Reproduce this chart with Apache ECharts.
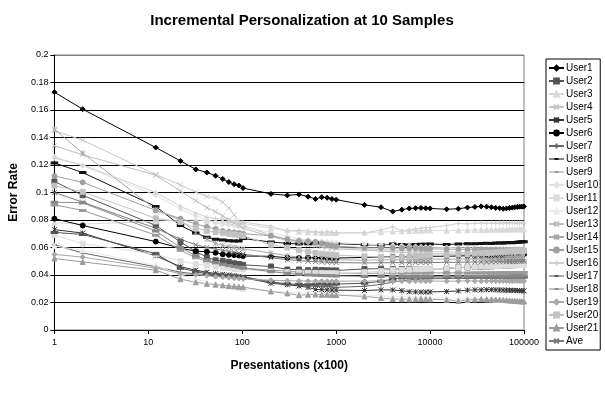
<!DOCTYPE html>
<html>
<head>
<meta charset="utf-8">
<script src="https://cdn.jsdelivr.net/npm/echarts@6/dist/echarts.min.js"></script>
<style>
  html, body { margin: 0; padding: 0; background: #fff; }
  #chart { width: 605px; height: 396px; }
</style>
</head>
<body>
<div id="chart"></div>
<script>
// x positions (presentations x100)
const presentations = [1, 2, 12, 22, 32, 42, 52, 62, 72, 82, 92, 102,
  202, 302, 402, 502, 602, 702, 802, 902, 1002,
  2002, 3002, 4002, 5002, 6002, 7002, 8002, 9002, 10002,
  15002, 20002, 25002, 30002, 35002, 40002, 45002, 50002, 55002, 60002, 65002, 70002, 75002, 80002, 85002, 90002, 95002, 100000];

const user1 = [0.173, 0.1606, 0.1327, 0.123, 0.1168, 0.1146, 0.1122, 0.1098, 0.1076, 0.106, 0.1051, 0.1032,
  0.099, 0.0979, 0.0986, 0.097, 0.0953, 0.0966, 0.0962, 0.0953, 0.0948,
  0.091, 0.0893, 0.0862, 0.0875, 0.0884, 0.0886, 0.0888, 0.0886, 0.0884,
  0.0878, 0.0882, 0.0891, 0.0895, 0.0899, 0.0897, 0.0893, 0.0888, 0.0886, 0.0882, 0.0884, 0.0888, 0.089, 0.0893, 0.0895, 0.0897, 0.0897, 0.0899];
const user2 = [0.108, 0.098, 0.076, 0.064, 0.057, 0.053, 0.0507, 0.0503, 0.0496, 0.0485, 0.048, 0.0474,
  0.0462, 0.044, 0.044, 0.0435, 0.0438, 0.0436, 0.0434, 0.0433, 0.0433,
  0.0444, 0.0446, 0.0442, 0.0444, 0.0445, 0.0444, 0.0443, 0.0444, 0.0444,
  0.0446, 0.0455, 0.0455, 0.0458, 0.046, 0.0462, 0.0463, 0.0465, 0.0466, 0.0467, 0.0468, 0.047, 0.0471, 0.0472, 0.0473, 0.0474, 0.0475, 0.0477];
const user3 = [0.078, 0.077, 0.079, 0.080, 0.080, 0.0795, 0.079, 0.079, 0.0785, 0.078, 0.078, 0.0775,
  0.074, 0.0725, 0.0715, 0.071, 0.0708, 0.0706, 0.0705, 0.0706, 0.0706,
  0.0708, 0.0712, 0.0716, 0.0718, 0.072, 0.0722, 0.0722, 0.0724, 0.0724,
  0.0722, 0.0724, 0.0726, 0.0727, 0.0728, 0.0728, 0.0729, 0.0729, 0.073, 0.073, 0.073, 0.0731, 0.0731, 0.0731, 0.0732, 0.0732, 0.0732, 0.0732];
const user4 = [0.145, 0.138, 0.113, 0.1055, 0.1003, 0.097, 0.096, 0.093, 0.0886, 0.0837, 0.078, 0.076,
  0.069, 0.066, 0.064, 0.063, 0.062, 0.0615, 0.061, 0.0605, 0.060,
  0.059, 0.0585, 0.058, 0.058, 0.0575, 0.0575, 0.057, 0.057, 0.057,
  0.0568, 0.0566, 0.0565, 0.0564, 0.0563, 0.0562, 0.0562, 0.0561, 0.056, 0.056, 0.056, 0.0559, 0.0559, 0.0558, 0.0558, 0.0558, 0.0557, 0.0557];
const user5 = [0.073, 0.0705, 0.054, 0.046, 0.0435, 0.042, 0.041, 0.0405, 0.040, 0.0395, 0.039, 0.0385,
  0.034, 0.033, 0.032, 0.031, 0.0295, 0.0293, 0.0292, 0.029, 0.029,
  0.0287, 0.0292, 0.0291, 0.0286, 0.0278, 0.0277, 0.0276, 0.0276, 0.0277,
  0.028, 0.0284, 0.029, 0.0292, 0.0292, 0.0293, 0.0293, 0.0292, 0.0291, 0.029, 0.029, 0.0289, 0.0288, 0.0288, 0.0287, 0.0286, 0.0286, 0.0285];
const user6 = [0.081, 0.076, 0.0643, 0.0595, 0.0573, 0.0569, 0.0562, 0.0551, 0.0547, 0.0545, 0.0542, 0.0538,
  0.0536, 0.0525, 0.0524, 0.0525, 0.0526, 0.0527, 0.0525, 0.0524, 0.0523,
  0.0528, 0.053, 0.0532, 0.0531, 0.0533, 0.0534, 0.0533, 0.0535, 0.0536,
  0.0537, 0.0538, 0.054, 0.0539, 0.0541, 0.0542, 0.0541, 0.0543, 0.0542, 0.0544, 0.0545, 0.0544, 0.0546, 0.0545, 0.0547, 0.0546, 0.0548, 0.0549];
const user7 = [0.062, 0.056, 0.046, 0.042, 0.0408, 0.0402, 0.0398, 0.0392, 0.0388, 0.0384, 0.0381, 0.0378,
  0.0345, 0.0332, 0.0326, 0.032, 0.0318, 0.0315, 0.0316, 0.0313, 0.031,
  0.0318, 0.0332, 0.0348, 0.0358, 0.0364, 0.0368, 0.037, 0.0372, 0.0373,
  0.0374, 0.0376, 0.0375, 0.0377, 0.0378, 0.0377, 0.0379, 0.0378, 0.038, 0.0379, 0.038, 0.0381, 0.038, 0.0381, 0.0382, 0.0381, 0.0382, 0.0382];
const user8 = [0.1215, 0.1145, 0.0898, 0.076, 0.0705, 0.0675, 0.066, 0.0655, 0.065, 0.0648, 0.0647, 0.0665,
  0.064, 0.063, 0.0625, 0.0628, 0.0632, 0.0635, 0.0633, 0.063, 0.0628,
  0.062, 0.0618, 0.0625, 0.0622, 0.0619, 0.0621, 0.0624, 0.0623, 0.0625,
  0.0622, 0.0626, 0.0628, 0.0627, 0.063, 0.0631, 0.063, 0.0632, 0.0633, 0.0632, 0.0634, 0.0636, 0.0635, 0.0637, 0.0638, 0.064, 0.0641, 0.0642];
const user9 = [0.091, 0.087, 0.069, 0.058, 0.0525, 0.05, 0.0485, 0.0472, 0.0465, 0.046, 0.0455, 0.045,
  0.0435, 0.0428, 0.0422, 0.042, 0.0418, 0.0417, 0.0416, 0.0415, 0.0414,
  0.0412, 0.0413, 0.0414, 0.0413, 0.0414, 0.0415, 0.0414, 0.0415, 0.0416,
  0.0415, 0.0416, 0.0415, 0.0416, 0.0417, 0.0416, 0.0417, 0.0416, 0.0417, 0.0418, 0.0417, 0.0418, 0.0417, 0.0418, 0.0418, 0.0417, 0.0418, 0.0418];
const user10 = [0.126, 0.1195, 0.098, 0.088, 0.083, 0.08, 0.078, 0.077, 0.0765, 0.076, 0.0755, 0.075,
  0.071, 0.068, 0.066, 0.0655, 0.065, 0.0645, 0.064, 0.0638, 0.0635,
  0.0625, 0.062, 0.0615, 0.0612, 0.061, 0.0608, 0.0605, 0.0604, 0.0602,
  0.06, 0.0598, 0.0597, 0.0596, 0.0595, 0.0594, 0.0593, 0.0593, 0.0592, 0.0592, 0.0591, 0.0591, 0.059, 0.059, 0.059, 0.0589, 0.0589, 0.0589];
const user11 = [0.069, 0.0628, 0.055, 0.05, 0.048, 0.047, 0.046, 0.0455, 0.045, 0.0445, 0.0443, 0.044,
  0.0425, 0.042, 0.0418, 0.0416, 0.0415, 0.0414, 0.0413, 0.0413, 0.0412,
  0.042, 0.0428, 0.0435, 0.0438, 0.044, 0.0442, 0.0443, 0.0445, 0.0446,
  0.045, 0.0455, 0.0458, 0.046, 0.0462, 0.0463, 0.0465, 0.0466, 0.0467, 0.0468, 0.0469, 0.047, 0.047, 0.0471, 0.0472, 0.0472, 0.0473, 0.0473];
const user12 = [0.061, 0.058, 0.047, 0.04, 0.037, 0.035, 0.0335, 0.0325, 0.0318, 0.031, 0.0305, 0.03,
  0.0285, 0.0275, 0.027, 0.0268, 0.0265, 0.0262, 0.026, 0.0258, 0.0257,
  0.0255, 0.025, 0.0245, 0.0242, 0.024, 0.0238, 0.0236, 0.0235, 0.0234,
  0.0232, 0.023, 0.0228, 0.0226, 0.0225, 0.0223, 0.0222, 0.022, 0.0219, 0.0218, 0.0216, 0.0215, 0.0214, 0.0213, 0.0212, 0.0211, 0.021, 0.021];
const user13 = [0.134, 0.1274, 0.1126, 0.101, 0.094, 0.089, 0.086, 0.083, 0.080, 0.078, 0.076, 0.074,
  0.068, 0.065, 0.063, 0.062, 0.061, 0.0605, 0.06, 0.0595, 0.059,
  0.058, 0.0575, 0.057, 0.0565, 0.0562, 0.056, 0.0558, 0.0556, 0.0555,
  0.0553, 0.0552, 0.0551, 0.055, 0.055, 0.0549, 0.0549, 0.0548, 0.0548, 0.0547, 0.0547, 0.0546, 0.0546, 0.0546, 0.0545, 0.0545, 0.0545, 0.0545];
const user14 = [0.146, 0.1287, 0.0875, 0.08, 0.071, 0.066, 0.063, 0.0615, 0.0605, 0.06, 0.0595, 0.059,
  0.056, 0.054, 0.053, 0.0525, 0.052, 0.052, 0.0515, 0.0515, 0.051,
  0.0508, 0.051, 0.0512, 0.0511, 0.0513, 0.0514, 0.0513, 0.0515, 0.0516,
  0.0515, 0.0516, 0.0518, 0.0517, 0.0519, 0.0518, 0.052, 0.0519, 0.052, 0.0521, 0.052, 0.0521, 0.0522, 0.0521, 0.0522, 0.0523, 0.0522, 0.0523];
const user15 = [0.112, 0.1074, 0.087, 0.081, 0.077, 0.075, 0.0735, 0.072, 0.0715, 0.071, 0.0705, 0.07,
  0.0686, 0.066, 0.0648, 0.0645, 0.064, 0.063, 0.062, 0.0615, 0.061,
  0.0598, 0.0598, 0.0597, 0.0596, 0.0595, 0.0594, 0.0592, 0.0591, 0.059,
  0.0588, 0.0587, 0.0586, 0.0585, 0.0585, 0.0584, 0.0583, 0.0583, 0.0582, 0.0582, 0.0581, 0.0581, 0.058, 0.058, 0.058, 0.0579, 0.0579, 0.0579];
const user16 = [0.125, 0.12, 0.1, 0.09, 0.085, 0.082, 0.081, 0.0805, 0.08, 0.0795, 0.079, 0.0785,
  0.0755, 0.072, 0.0725, 0.072, 0.0715, 0.071, 0.0715, 0.071, 0.0706,
  0.0706, 0.0728, 0.075, 0.072, 0.0728, 0.0735, 0.074, 0.0745, 0.0745,
  0.076, 0.0775, 0.0772, 0.0775, 0.0778, 0.0776, 0.0778, 0.0777, 0.0778, 0.0779, 0.0777, 0.0778, 0.0779, 0.0778, 0.0777, 0.0778, 0.0779, 0.0778];
const user17 = [0.071, 0.0695, 0.0555, 0.045, 0.0425, 0.041, 0.0405, 0.04, 0.0395, 0.0392, 0.039, 0.0388,
  0.035, 0.0335, 0.0332, 0.033, 0.0332, 0.0334, 0.0333, 0.0335, 0.0334,
  0.034, 0.0355, 0.037, 0.0378, 0.0383, 0.0385, 0.0386, 0.0387, 0.0386,
  0.0385, 0.0387, 0.0386, 0.0388, 0.0387, 0.0388, 0.0386, 0.0387, 0.0388, 0.0387, 0.0386, 0.0387, 0.0388, 0.0387, 0.0386, 0.0387, 0.0386, 0.0386];
const user18 = [0.093, 0.0925, 0.072, 0.06, 0.054, 0.051, 0.049, 0.0478, 0.047, 0.0462, 0.0456, 0.045,
  0.0425, 0.0412, 0.0405, 0.04, 0.0398, 0.0396, 0.0395, 0.0394, 0.0393,
  0.039, 0.0389, 0.0389, 0.039, 0.039, 0.0391, 0.039, 0.0391, 0.0391,
  0.0391, 0.0392, 0.0391, 0.0392, 0.0392, 0.0393, 0.0392, 0.0393, 0.0393, 0.0392, 0.0393, 0.0393, 0.0394, 0.0393, 0.0394, 0.0394, 0.0394, 0.0394];
const user19 = [0.055, 0.053, 0.045, 0.041, 0.0402, 0.0395, 0.0388, 0.0384, 0.038, 0.0377, 0.0374, 0.0372,
  0.0362, 0.0358, 0.0357, 0.0356, 0.0355, 0.0356, 0.0355, 0.0354, 0.0355,
  0.0356, 0.0357, 0.0355, 0.0356, 0.0354, 0.0355, 0.0356, 0.0355, 0.0356,
  0.0355, 0.0356, 0.0357, 0.0356, 0.0355, 0.0356, 0.0357, 0.0356, 0.0355, 0.0356, 0.0357, 0.0356, 0.0355, 0.0356, 0.0357, 0.0356, 0.0356, 0.0356];
const user20 = [0.105, 0.1005, 0.0812, 0.0785, 0.0745, 0.072, 0.0712, 0.0706, 0.07, 0.0695, 0.069, 0.0685,
  0.062, 0.06, 0.058, 0.057, 0.056, 0.0555, 0.055, 0.0548, 0.0545,
  0.0535, 0.053, 0.0528, 0.053, 0.0532, 0.0535, 0.0538, 0.054, 0.0542,
  0.0545, 0.055, 0.0553, 0.0556, 0.0558, 0.056, 0.0562, 0.0564, 0.0566, 0.0568, 0.057, 0.0571, 0.0572, 0.0573, 0.0574, 0.0575, 0.0575, 0.0576];
const user21 = [0.052, 0.0495, 0.0435, 0.037, 0.0347, 0.0336, 0.033, 0.0325, 0.032, 0.0318, 0.0315, 0.0312,
  0.028, 0.0266, 0.0253, 0.0257, 0.0258, 0.0256, 0.0257, 0.0255, 0.0254,
  0.0244, 0.0233, 0.0226, 0.0224, 0.0223, 0.0224, 0.0225, 0.0224, 0.0223,
  0.022, 0.0211, 0.0218, 0.0222, 0.0224, 0.0224, 0.0223, 0.0222, 0.0221, 0.0219, 0.0217, 0.0215, 0.0213, 0.0211, 0.021, 0.0209, 0.0208, 0.0207];
const average = [0.1, 0.093, 0.074, 0.066, 0.062, 0.06, 0.0588, 0.058, 0.0572, 0.0565, 0.0558, 0.0552,
  0.0525, 0.0512, 0.0505, 0.05, 0.0497, 0.0495, 0.0493, 0.0492, 0.049,
  0.0488, 0.0489, 0.049, 0.049, 0.0489, 0.049, 0.0491, 0.049, 0.0491,
  0.0492, 0.0493, 0.0494, 0.0494, 0.0495, 0.0495, 0.0496, 0.0496, 0.0497, 0.0497, 0.0497, 0.0498, 0.0498, 0.0498, 0.0499, 0.0499, 0.0499, 0.05];

// marker shapes
const CROSS = 'path://M0,0L10,10M10,0L0,10';
const STAR = 'path://M0,0L10,10M10,0L0,10M5,0L5,10';
const PLUS = 'path://M5,0L5,10M0,5L10,5';
// legend icon for the dash-marker series: thin line + short bar, tiny corner
// triangles keep the box 6 units tall so the line stays thin
const DASH_ICON = 'path://M0,0L0.01,0L0,0.01ZM0,6L0.01,6L0,5.99Z' +
  'M0,2.5L15,2.5L15,3.5L0,3.5ZM5.5,2L9.5,2L9.5,4L5.5,4Z';

const seriesDefs = [
  { name: 'User1', data: user1, color: '#000000', symbol: 'diamond' },
  { name: 'User2', data: user2, color: '#555555', symbol: 'rect' },
  { name: 'User3', data: user3, color: '#dadada', symbol: 'triangle' },
  { name: 'User4', data: user4, color: '#c6c6c6', symbol: CROSS },
  { name: 'User5', data: user5, color: '#333333', symbol: STAR },
  { name: 'User6', data: user6, color: '#000000', symbol: 'circle' },
  { name: 'User7', data: user7, color: '#666666', symbol: PLUS },
  { name: 'User8', data: user8, color: '#111111', symbol: 'dash' },
  { name: 'User9', data: user9, color: '#9a9a9a', symbol: 'dash' },
  { name: 'User10', data: user10, color: '#e2e2e2', symbol: 'diamond' },
  { name: 'User11', data: user11, color: '#dedede', symbol: 'rect' },
  { name: 'User12', data: user12, color: '#ebebeb', symbol: 'triangle' },
  { name: 'User13', data: user13, color: '#bdbdbd', symbol: CROSS },
  { name: 'User14', data: user14, color: '#a8a8a8', symbol: STAR },
  { name: 'User15', data: user15, color: '#a0a0a0', symbol: 'circle' },
  { name: 'User16', data: user16, color: '#cfcfcf', symbol: PLUS },
  { name: 'User17', data: user17, color: '#555555', symbol: 'dash' },
  { name: 'User18', data: user18, color: '#8a8a8a', symbol: 'dash' },
  { name: 'User19', data: user19, color: '#a8a8a8', symbol: 'diamond' },
  { name: 'User20', data: user20, color: '#c2c2c2', symbol: 'rect' },
  { name: 'User21', data: user21, color: '#9c9c9c', symbol: 'triangle' },
  { name: 'Ave', data: average, color: '#7a7a7a', symbol: CROSS }
];

const yGridColors = ['#000', '#000', '#000', '#000', '#000', '#000', '#000', '#000', '#000', '#000', '#808080'];

const series = seriesDefs.map(d => {
  const isDash = d.symbol === 'dash';
  return {
    name: d.name,
    type: 'line',
    data: presentations.map((x, i) => [x, d.data[i]]),
    symbol: isDash ? 'rect' : d.symbol,
    symbolSize: isDash ? [5, 2] : 5,
    showAllSymbol: true,
    color: d.color,
    lineStyle: { color: d.color, width: 1 },
    itemStyle: { color: d.color, borderColor: d.color, borderWidth: 1 },
    emphasis: { disabled: true }
  };
});

const legendData = seriesDefs.map(d => d.symbol === 'dash'
  ? { name: d.name, icon: DASH_ICON, itemStyle: { borderWidth: 0 } }
  : { name: d.name });

const chart = echarts.init(document.getElementById('chart'));
chart.setOption({
  animation: false,
  title: {
    text: 'Incremental Personalization at 10 Samples',
    left: 297,
    textAlign: 'center',
    top: 8,
    textStyle: { fontFamily: 'Liberation Sans, Arial', fontSize: 15, fontWeight: 'bold', color: '#000' }
  },
  legend: {
    orient: 'vertical',
    left: 546,
    top: 59,
    width: 53,
    padding: [3, 2, 3, 2],
    itemWidth: 15,
    itemHeight: 6,
    itemGap: 1,
    borderColor: '#000',
    borderWidth: 1,
    textStyle: { fontFamily: 'Liberation Sans, Arial', fontSize: 10, lineHeight: 12, color: '#000', padding: [0, 0, 0, -3] },
    data: legendData
  },
  grid: {
    left: 54, top: 55, width: 470, height: 275,
    show: true, borderColor: '#808080', borderWidth: 1, backgroundColor: '#fff'
  },
  xAxis: {
    type: 'log',
    logBase: 10,
    min: 1,
    max: 100000,
    name: 'Presentations (x100)',
    nameLocation: 'middle',
    nameGap: 30,
    nameTextStyle: { fontFamily: 'Liberation Sans, Arial', fontSize: 12, fontWeight: 'bold', color: '#000' },
    axisLine: { lineStyle: { color: '#000', width: 1 } },
    axisTick: { show: true, length: 4, lineStyle: { color: '#000' } },
    minorTick: { show: false },
    splitLine: { show: false },
    axisLabel: {
      fontFamily: 'Liberation Sans, Arial', fontSize: 9, color: '#000', margin: 8,
      formatter: v => String(Math.round(v))
    }
  },
  yAxis: {
    type: 'value',
    min: 0,
    max: 0.2,
    interval: 0.02,
    name: 'Error Rate',
    nameLocation: 'middle',
    nameGap: 30,
    nameTextStyle: { fontFamily: 'Liberation Sans, Arial', fontSize: 12, fontWeight: 'bold', color: '#000' },
    axisLine: { show: true, lineStyle: { color: '#000', width: 1 } },
    axisTick: { show: true, length: 4, lineStyle: { color: '#000' } },
    splitLine: { show: true, lineStyle: { color: yGridColors, width: 1 } },
    axisLabel: {
      fontFamily: 'Liberation Sans, Arial', fontSize: 9, color: '#000', margin: 6,
      formatter: v => String(Math.round(v * 100) / 100)
    }
  },
  series: series
});
</script>
</body>
</html>
